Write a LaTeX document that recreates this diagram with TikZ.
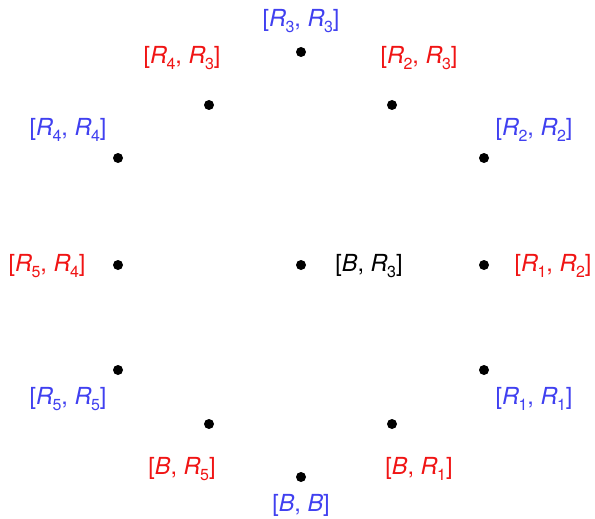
\documentclass[tikz,border=0pt]{standalone}
\usepackage{fontspec}
\setmainfont{TeX Gyre Heros}
\definecolor{lblblue}{RGB}{64,64,240}
\definecolor{lblred}{RGB}{240,20,20}
% italic letter with a lowered subscript digit
\newcommand\Sym[2]{\textit{#1}\kern-0.02em\raisebox{-0.22em}{\fontsize{16}{16}\selectfont #2}}
\newcommand\Let[1]{\textit{#1}}
\begin{document}
\begin{tikzpicture}[x=1pt,y=-1pt,
  pt/.style={circle,fill=black,inner sep=0pt,minimum size=10pt},
  lbl/.style={inner sep=0pt,font=\fontsize{23.5}{23.5}\selectfont,anchor=center},
  bl/.style={lbl,text=lblblue},
  rd/.style={lbl,text=lblred},
  bk/.style={lbl,text=black}]
\useasboundingbox (0,0) rectangle (595,519);
% vertices
\node[pt] (p33) at (301,52) {};
\node[pt] (p43) at (209,105) {};
\node[pt] (p23) at (392,105) {};
\node[pt] (p44) at (118,158) {};
\node[pt] (p22) at (484,158) {};
\node[pt] (p54) at (118,265) {};
\node[pt] (pb3) at (301,265) {};
\node[pt] (p12) at (484,265) {};
\node[pt] (p55) at (118,370) {};
\node[pt] (p11) at (484,370) {};
\node[pt] (pb5) at (209,424) {};
\node[pt] (pb1) at (392,424) {};
\node[pt] (pbb) at (301,477) {};
% labels
\node[bl] (l33) at (301,21) {[\Sym{R}{3}, \Sym{R}{3}]};
\node[rd] (l43) at (182,58) {[\Sym{R}{4}, \Sym{R}{3}]};
\node[rd] (l23) at (419,58) {[\Sym{R}{2}, \Sym{R}{3}]};
\node[bl] (l44) at (68,130) {[\Sym{R}{4}, \Sym{R}{4}]};
\node[bl] (l22) at (534,130) {[\Sym{R}{2}, \Sym{R}{2}]};
\node[rd] (l54) at (47,266) {[\Sym{R}{5}, \Sym{R}{4}]};
\node[bk] (lb3) at (369,266) {[\Let{B}, \Sym{R}{3}]};
\node[rd] (l12) at (553,266) {[\Sym{R}{1}, \Sym{R}{2}]};
\node[bl] (l55) at (68,399) {[\Sym{R}{5}, \Sym{R}{5}]};
\node[bl] (l11) at (534,399) {[\Sym{R}{1}, \Sym{R}{1}]};
\node[rd] (lb5) at (182,469) {[\Let{B}, \Sym{R}{5}]};
\node[rd] (lb1) at (419,469) {[\Let{B}, \Sym{R}{1}]};
\node[bl] (lbb) at (301,505) {[\Let{B}, \Let{B}]};
\end{tikzpicture}
\end{document}
